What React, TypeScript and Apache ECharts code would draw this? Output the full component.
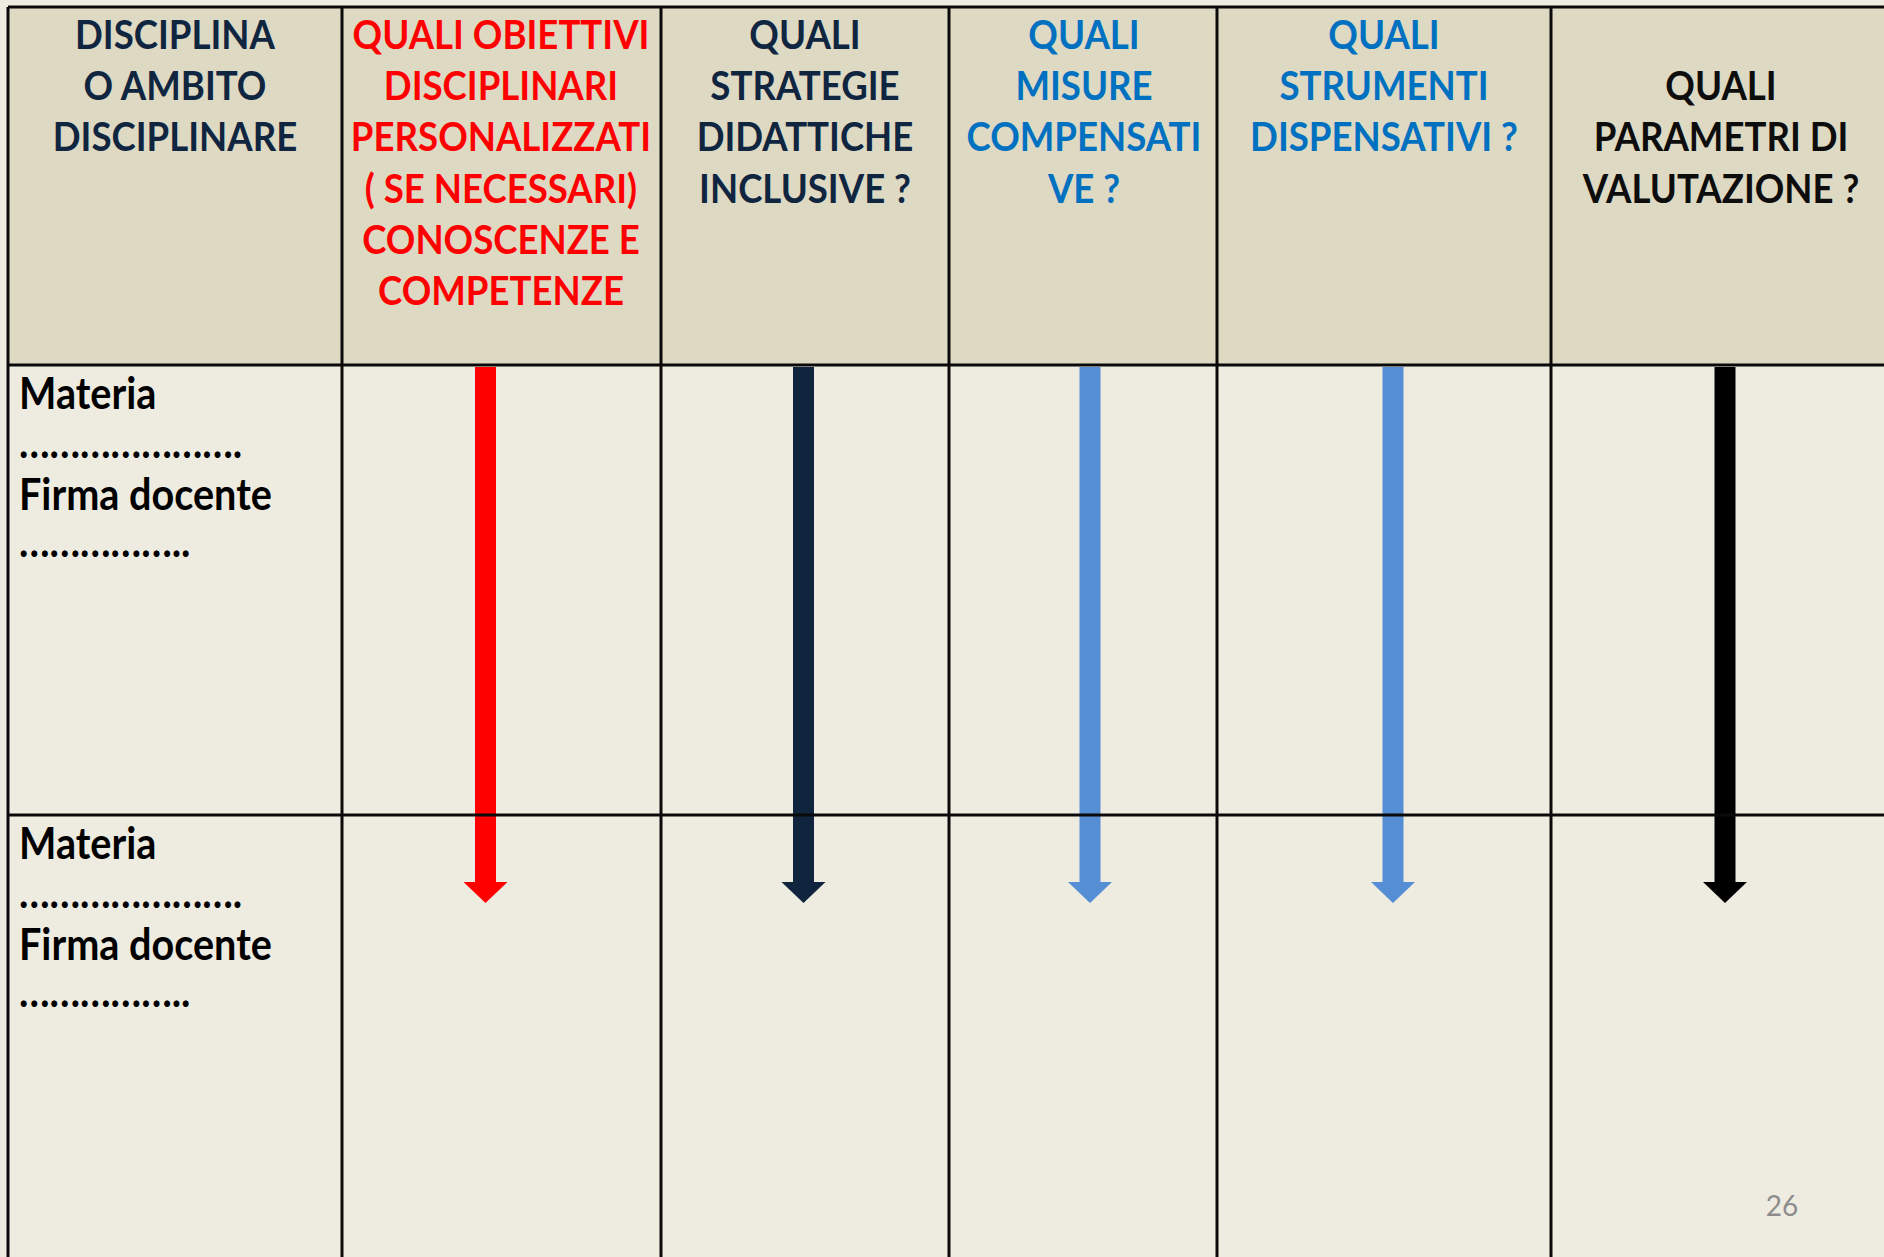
import React, { useEffect, useRef } from "react";
import * as echarts from "echarts";

// ---- content ----
const headerLines: string[][] = [
  ["DISCIPLINA", "O AMBITO", "DISCIPLINARE"],
  ["QUALI OBIETTIVI", "DISCIPLINARI", "PERSONALIZZATI", "( SE NECESSARI)", "CONOSCENZE E", "COMPETENZE"],
  ["QUALI", "STRATEGIE", "DIDATTICHE", "INCLUSIVE ?"],
  ["QUALI", "MISURE", "COMPENSATI", "VE ?"],
  ["QUALI", "STRUMENTI", "DISPENSATIVI ?"],
  ["QUALI", "PARAMETRI DI", "VALUTAZIONE ?"],
];
const headerStartLine = [0, 0, 0, 0, 0, 1];
const headerColors = ["#10253F", "#FF0000", "#10253F", "#0070C0", "#0070C0", "#0D0D0D"];
const rowLabelLines = ["Materia", "\u2026\u2026\u2026\u2026\u2026\u2026\u2026.", "Firma docente", "\u2026\u2026\u2026\u2026\u2026.."];
const rowCount = 2;
const arrowColors = ["#FF0000", "#10243E", "#558ED5", "#558ED5", "#000000"];
const pageNumber = "26";

// ---- layout ----
const W = 1884;
const H = 1257;
const colEdges = [8, 342, 661, 949, 1217, 1551, 1900];
const headerTop = 7;
const headerBottom = 365;
const rowEdges = [365, 815, 1270];
const headerCenters = [175, 501, 805, 1084, 1384, 1721];
const headerFirstLineY = 33;
const headerLineStep = 51.3;
const arrowXs = [485.5, 803.5, 1090, 1393, 1725];
const arrowTop = 367;
const arrowHeadTop = 882;
const arrowTip = 903;
const shaftW = 21;
const headW = 44;
const labelX = 19;
const labelYs = [392, 441, 493, 540];
const FONT = "Lato, 'Open Sans', sans-serif";

function buildElements() {
  const els: any[] = [];
  // backgrounds
  els.push({
    type: "rect",
    shape: { x: colEdges[0], y: headerTop, width: W, height: headerBottom - headerTop },
    style: { fill: "#DDD9C3" },
  });
  els.push({
    type: "rect",
    shape: { x: colEdges[0], y: headerBottom, width: W, height: H },
    style: { fill: "#EEECE1" },
  });
  // header texts
  headerLines.forEach((lines, c) => {
    lines.forEach((t, i) => {
      els.push({
        type: "text",
        x: headerCenters[c],
        y: headerFirstLineY + (headerStartLine[c] + i) * headerLineStep,
        scaleX: 0.915,
        style: {
          text: t,
          fill: headerColors[c],
          fontFamily: FONT,
          fontWeight: "bold",
          fontSize: 40,
          textAlign: "center",
          textVerticalAlign: "middle",
        },
      });
    });
  });
  // row labels
  for (let r = 0; r < rowCount; r++) {
    const off = rowEdges[r] - rowEdges[0];
    rowLabelLines.forEach((t, i) => {
      els.push({
        type: "text",
        x: labelX,
        y: labelYs[i] + off,
        scaleX: 0.9,
        style: {
          text: t,
          fill: "#000000",
          fontFamily: FONT,
          fontWeight: "bold",
          fontSize: 44,
          textAlign: "left",
          textVerticalAlign: "middle",
        },
      });
    });
  }
  // arrows
  arrowXs.forEach((x, i) => {
    els.push({
      type: "rect",
      shape: { x: x - shaftW / 2, y: arrowTop, width: shaftW, height: arrowHeadTop - arrowTop + 1 },
      style: { fill: arrowColors[i] },
    });
    els.push({
      type: "polygon",
      shape: {
        points: [
          [x - headW / 2, arrowHeadTop],
          [x + headW / 2, arrowHeadTop],
          [x, arrowTip],
        ],
      },
      style: { fill: arrowColors[i] },
    });
  });
  // grid lines
  const lineStyle = { stroke: "#0A0A0A", lineWidth: 3 };
  colEdges.slice(0, -1).forEach((x) => {
    els.push({ type: "line", shape: { x1: x, y1: headerTop, x2: x, y2: H + 10 }, style: lineStyle });
  });
  [headerTop, ...rowEdges.slice(0, -1)].forEach((y) => {
    els.push({ type: "line", shape: { x1: colEdges[0], y1: y, x2: W + 10, y2: y }, style: lineStyle });
  });
  // page number
  els.push({
    type: "text",
    x: 1782,
    y: 1205,
    style: {
      text: pageNumber,
      fill: "#8C8C8C",
      fontFamily: FONT,
      fontSize: 28,
      textAlign: "center",
      textVerticalAlign: "middle",
    },
  });
  return els;
}

export default function App() {
  const ref = useRef<HTMLDivElement>(null);
  useEffect(() => {
    if (!ref.current) return;
    const chart = echarts.init(ref.current, undefined, { renderer: "svg" });
    chart.setOption({
      animation: false,
      backgroundColor: "#EEECE1",
      graphic: { elements: buildElements() },
    });
    return () => chart.dispose();
  }, []);
  return (
    <div
      ref={ref}
      style={{ position: "absolute", left: 0, top: 0, width: W, height: H }}
    />
  );
}
